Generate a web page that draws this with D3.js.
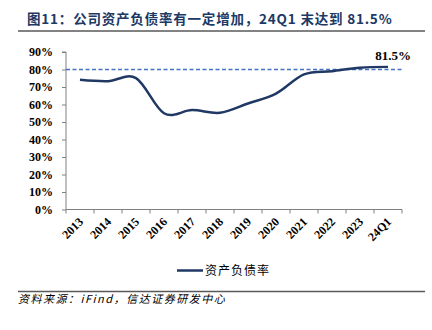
<!DOCTYPE html>
<html>
<head>
<meta charset="utf-8">
<script src="https://cdn.jsdelivr.net/npm/d3@7/dist/d3.min.js"></script>
<style>
html,body{margin:0;padding:0;background:#fff;}
svg{display:block;}
</style>
</head>
<body>
<svg id="chart" width="432" height="330"></svg>
<script>
const categories = ["2013","2014","2015","2016","2017","2018","2019","2020","2021","2022","2023","24Q1"];
const debtRatio = [74.1, 73.3, 75.1, 55.0, 56.8, 55.3, 60.6, 66.2, 77.2, 79.0, 81.0, 81.5];
const yTicks = [0, 10, 20, 30, 40, 50, 60, 70, 80, 90];
const refLine = 80;
const lastLabel = "81.5%";
const titleText = "图11：公司资产负债率有一定增加，24Q1 末达到 81.5%";
const legendText = "资产负债率";
const sourceText = "资料来源：iFind，信达证券研发中心";

const svg = d3.select("#chart");
const navy = "#203864";
const serif = "'Liberation Serif','Times New Roman',serif";
const cjk = "'Noto Sans CJK SC','Noto Sans CJK JP',sans-serif";

// Title
svg.append("text").attr("x", 27).attr("y", 24)
  .attr("font-family", cjk).attr("font-weight", "bold").attr("font-size", 13.5)
  .attr("letter-spacing", 0.8)
  .attr("fill", navy).text(titleText);
svg.append("line").attr("x1", 18).attr("x2", 425).attr("y1", 31).attr("y2", 31)
  .attr("stroke", "#595959").attr("stroke-width", 1.5);

const x = d3.scaleBand().domain(categories).range([66, 402]);
const y = d3.scaleLinear().domain([0, 90]).range([209.5, 52]);

// Y axis
const yAxis = d3.axisLeft(y).tickValues(yTicks).tickSize(4).tickPadding(9)
  .tickFormat(d => d + "%");
const gy = svg.append("g").attr("transform", "translate(66,0)").call(yAxis);
gy.select(".domain").attr("stroke", "#808080").attr("d", `M-4,${y(90)}H0V${y(0)}`);
gy.selectAll(".tick line").attr("stroke", "#808080");
gy.selectAll(".tick text").attr("font-family", serif).attr("font-weight", "bold")
  .attr("font-size", 12).attr("fill", "#000");

// X axis
const gx = svg.append("g").attr("transform", `translate(0,${y(0)})`);
gx.append("line").attr("x1", x.range()[0]).attr("x2", x.range()[1])
  .attr("stroke", "#808080");
const bounds = categories.map(c => x(c)).concat([x.range()[1]]);
gx.selectAll("line.tk").data(bounds).join("line").attr("class", "tk")
  .attr("x1", d => d).attr("x2", d => d).attr("y1", 0).attr("y2", 4)
  .attr("stroke", "#808080");
gx.selectAll("text").data(categories).join("text")
  .attr("transform", d => `translate(${x(d) + x.bandwidth() / 2 + 4},${13}) rotate(-45)`)
  .attr("text-anchor", "end")
  .attr("font-family", serif).attr("font-weight", "bold").attr("font-size", 12)
  .attr("fill", "#000").text(d => d);

// Reference dashed line
svg.append("line").attr("x1", x.range()[0]).attr("x2", x.range()[1])
  .attr("y1", y(refLine)).attr("y2", y(refLine))
  .attr("stroke", "#4472C4").attr("stroke-width", 1.6).attr("stroke-dasharray", "4,2.5");

// Line
const line = d3.line()
  .x((d, i) => x(categories[i]) + x.bandwidth() / 2)
  .y(d => y(d))
  .curve(d3.curveCardinal.tension(0));
svg.append("path").datum(debtRatio).attr("d", line)
  .attr("fill", "none").attr("stroke", navy).attr("stroke-width", 2.5);

// Last label
const li = debtRatio.length - 1;
svg.append("text").attr("x", x(categories[li]) + x.bandwidth() / 2 + 5).attr("y", 60)
  .attr("text-anchor", "middle")
  .attr("font-family", serif).attr("font-weight", "bold").attr("font-size", 13)
  .attr("fill", "#000").text(lastLabel);

// Legend
svg.append("line").attr("x1", 177).attr("x2", 203).attr("y1", 270.5).attr("y2", 270.5)
  .attr("stroke", navy).attr("stroke-width", 2.5);
svg.append("text").attr("x", 205).attr("y", 275)
  .attr("font-family", cjk).attr("font-size", 12).attr("letter-spacing", 1)
  .attr("fill", "#000").text(legendText);

// Bottom line and source
svg.append("line").attr("x1", 18).attr("x2", 425).attr("y1", 291.5).attr("y2", 291.5)
  .attr("stroke", "#595959").attr("stroke-width", 1.5);
svg.append("text").attr("x", 18).attr("y", 303)
  .attr("font-family", cjk).attr("font-size", 11).attr("font-style", "italic")
  .attr("letter-spacing", 1.5)
  .attr("fill", "#000").text(sourceText);
</script>
</body>
</html>
